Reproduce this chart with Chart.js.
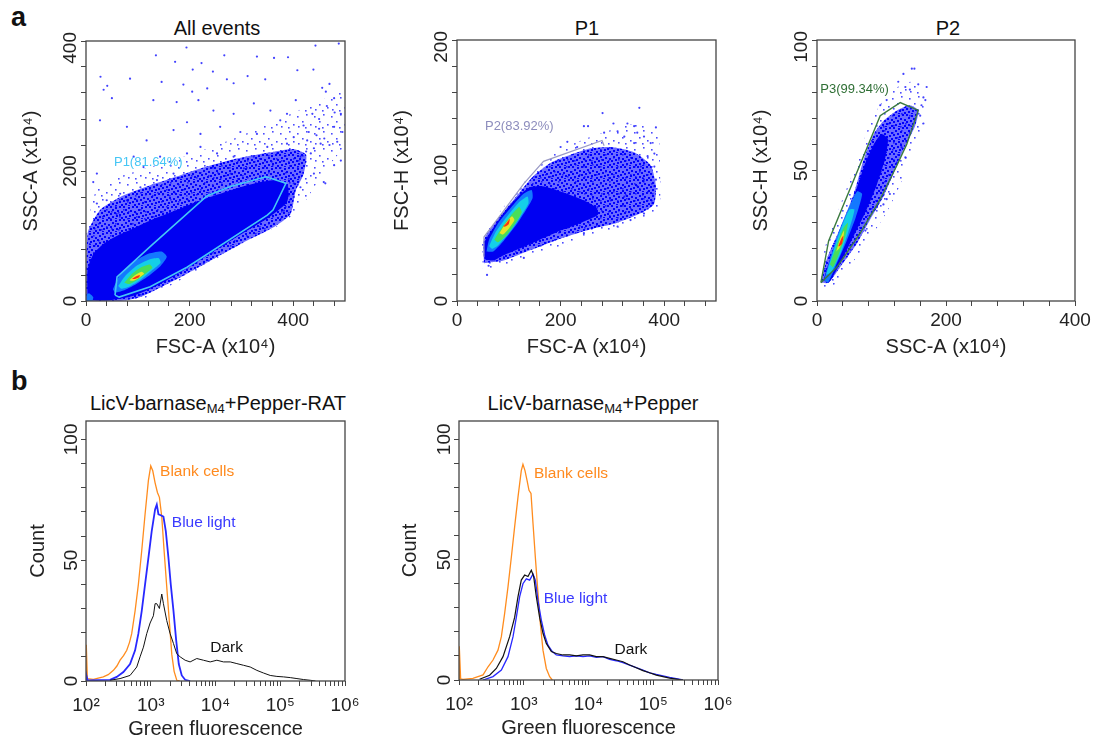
<!DOCTYPE html>
<html>
<head>
<meta charset="utf-8">
<script src="https://cdn.jsdelivr.net/npm/chart.js@4.4.1/dist/chart.umd.min.js"></script>
<style>
  body { margin: 0; width: 1095px; height: 740px; overflow: hidden; background: #fff; position: relative;
         font-family: 'Liberation Sans', Arial, sans-serif; color: #111; }
  canvas { position: absolute; }
  .lbl { position: absolute; font-weight: bold; font-size: 27px; line-height: 27px; }
  .ttl { position: absolute; font-size: 20px; line-height: 20px; white-space: nowrap; transform: translateX(-50%); }
  .ttl span { font-size: 13px; position: relative; top: 3px; }
</style>
</head>
<body>
<div class="lbl" style="left:11px;top:4px">a</div>
<div class="lbl" style="left:11px;top:368px">b</div>
<div class="ttl" style="left:217px;top:18px">All events</div>
<div class="ttl" style="left:587px;top:18px">P1</div>
<div class="ttl" style="left:948px;top:18px">P2</div>
<div class="ttl" style="left:218px;top:393px">LicV-barnase<span>M4</span>+Pepper-RAT</div>
<div class="ttl" style="left:593px;top:393px">LicV-barnase<span>M4</span>+Pepper</div>
<canvas id="c1"></canvas>
<canvas id="c2"></canvas>
<canvas id="c3"></canvas>
<canvas id="c4"></canvas>
<canvas id="c5"></canvas>
<script>
// ---- ticks ----
const ticks0to480 = [0, 40, 80, 120, 160, 200, 240, 280, 320, 360, 400, 440, 480];
const ticks0to400 = [0, 40, 80, 120, 160, 200, 240, 280, 320, 360, 400];
const ticks0to200 = [0, 20, 40, 60, 80, 100, 120, 140, 160, 180, 200];
const ticks0to100 = [0, 10, 20, 30, 40, 50, 60, 70, 80, 90, 100];
const histXTicks = [100, 200, 300, 400, 500, 600, 700, 800, 900,
  1000, 2000, 3000, 4000, 5000, 6000, 7000, 8000, 9000,
  10000, 20000, 30000, 40000, 50000, 60000, 70000, 80000, 90000,
  100000, 200000, 300000, 400000, 500000, 600000, 700000, 800000, 900000, 1000000];
const histXLabels = { 100: '10²', 1000: '10³', 10000: '10⁴', 100000: '10⁵', 1000000: '10⁶' };

// ---- panel 1: All events (FSC-A vs SSC-A), density outlines ----
const p1Sparse = [[0,110],[20,170],[60,190],[120,205],[200,225],[280,248],[360,275],[430,300],[498,320],[498,240],[460,200],[420,150],[380,120],[300,88],[200,40],[100,0],[0,0]];
const p1Med = [[0,0],[3,104],[27,140],[66,160],[117,176],[169,190],[221,204],[285,218],[350,228],[400,234],[425,225],[420,195],[405,170],[395,134],[363,114],[311,93],[195,42],[105,6],[66,0]];
const p1Dense = [[3,1],[3,48],[14,72],[34,88],[59,100],[92,112],[124,124],[169,138],[221,155],[259,165],[298,175],[337,183],[369,186],[390,176],[388,152],[350,127],[298,102],[246,76],[195,50],[143,26],[92,8],[46,1]];
const p1L1 = [[52,18],[64,38],[88,58],[118,72],[146,76],[156,68],[144,54],[120,38],[95,25],[72,16],[56,13]];
const p1L2 = [[62,23],[76,39],[97,54],[122,64],[140,66],[144,59],[127,47],[104,32],[83,22],[68,19]];
const p1L3 = [[74,28],[88,41],[105,51],[123,56],[128,51],[115,42],[98,32],[83,26]];
const p1L4 = [[84,32],[95,40],[107,45],[112,42],[101,35],[91,31]];
const p1L5 = [[89,34],[97,38],[104,40],[102,36],[95,34]];
const p1Corner = [[1,0],[1,10],[6,12],[14,6],[12,0]];
const p1Gate = [[56,9],[60,37],[127,86],[234,162],[279,176],[347,191],[386,181],[361,140],[350,132],[195,52],[124,22],[64,6]];
const p1Dots = [[135,378],[194,390],[172,368],[223,366],[267,378],[330,376],[363,374],[390,375],[443,393],[488,396],[206,356],[245,353],
  [28,345],[41,331],[34,325],[50,312],[85,342],[146,337],[188,333],[205,322],[234,327],[272,341],[285,335],[312,346],[346,341],
  [408,355],[439,356],[456,328],[470,334],[463,322],[405,309],[479,312],[492,288],[479,268],[437,288],[450,265],[453,242],[427,247],
  [130,309],[175,306],[217,309],[246,293],[285,288],[324,304],[356,293],[388,288],[79,268],[27,278],[117,247],[169,263],[195,275],
  [221,257],[259,268],[298,260],[330,257],[375,278],[401,252],[492,216],[479,209],[459,183],[462,181],[440,196],[414,175],[401,160],
  [382,139],[14,183],[21,196],[21,150],[40,155],[66,165],[59,134],[285,83],[363,155],[324,129],[401,181],[111,206],[143,222],[92,222],
  [195,227],[221,237],[253,227],[285,222],[324,222],[350,237],[369,227],[388,242],[414,222],[434,227],[305,204],[279,196],[169,196],
  [137,186],[105,175],[79,155],[420,270],[430,260],[445,255],[460,250],[470,240],[485,245],[495,260],[440,235],[425,230],[480,290],[465,300],[450,280]];

// ---- panel 2: P1 (FSC-A vs FSC-H) ----
const p2Sparse = [[50,25],[50,50],[90,72],[150,100],[200,116],[260,126],[320,134],[360,136],[388,128],[392,100],[390,72],[350,62],[280,52],[200,42],[120,32],[70,24]];
const p2Med = [[52,29],[52,47],[77,62],[110,78],[148,96],[181,106],[219,112],[258,117],[297,118],[342,114],[374,104],[384,88],[380,74],[348,66],[310,60],[258,55],[194,47],[142,39],[90,31]];
const p2Dense = [[53,32],[53,45],[70,56],[95,70],[120,81],[140,87],[165,88],[200,84],[240,78],[268,72],[272,66],[240,60],[200,54],[160,47],[120,40],[90,35],[70,31]];
const p2L1 = [[57,38],[62,47],[80,60],[105,72],[128,82],[144,85],[146,79],[132,69],[112,57],[90,46],[70,38]];
const p2L2 = [[62,42],[75,53],[95,64],[118,75],[136,80],[138,75],[123,65],[102,53],[80,43],[68,40]];
const p2L3 = [[72,47],[86,56],[105,66],[120,72],[125,68],[112,59],[95,50],[79,45]];
const p2L4 = [[82,52],[93,59],[106,65],[111,62],[101,56],[89,51]];
const p2L5 = [[89,57],[96,60],[102,63],[100,59],[93,57]];
const p2Gate = [[52,34],[52,49],[90,69],[129,90],[167,107],[280,123],[284,119]];
const p2Dots = [[352,148],[281,144],[245,134],[253,134],[302,136],[329,136],[342,134],[384,133],[310,130],[348,129],[361,126],[374,121],
  [381,113],[381,103],[384,93],[381,88],[377,75],[368,77],[361,67],[335,62],[310,57],[245,52],[219,62],[129,33],[61,27],[58,20],
  [284,129],[323,126],[213,122],[232,118],[200,118],[342,121],[368,111],[355,103],[361,93],[348,88],[323,80],[297,77],[271,72],[194,65]];

// ---- panel 3: P2 (SSC-A vs SSC-H) ----
const p3Sparse = [[5,5],[12,20],[35,36],[60,52],[82,68],[100,76],[125,82],[150,84],[166,78],[162,66],[145,55],[128,44],[108,34],[82,24],[50,13],[22,5]];
const p3Med = [[6,7],[15,16],[36,28],[57,41],[72,54],[88,64],[103,69],[124,73],[144,75],[157,73],[152,67],[134,58],[119,49],[103,40],[82,31],[62,22],[36,13],[18,7]];
const p3Dense = [[10,8],[20,16],[40,28],[60,42],[75,53],[88,60],[100,64],[110,62],[105,54],[92,44],[75,34],[55,24],[35,14],[18,7]];
const p3L1 = [[11,8],[20,16],[33,26],[48,35],[62,42],[70,41],[60,32],[46,23],[30,14],[17,7]];
const p3L2 = [[14,10],[24,18],[36,27],[50,35],[58,35],[48,26],[36,18],[22,11]];
const p3L3 = [[20,14],[30,21],[41,28],[48,30],[44,25],[34,18],[25,13]];
const p3L4 = [[30,19],[36,24],[42,27],[40,23],[34,20]];
const p3L5 = [[33,21],[38,24],[41,25],[39,22],[35,21]];
const p3Gate = [[6,7],[18,23],[98,71],[129,76],[157,73],[139,60],[124,52],[98,39],[67,26],[31,13]];
const p3Dots = [[147,89],[151,89],[134,87],[126,84],[137,82],[157,83],[170,82],[144,81],[165,78],[168,77],[162,75],[155,73],[165,68],
  [160,71],[108,77],[98,75],[137,55],[131,59],[113,41],[108,39],[103,37],[75,27],[93,36],[124,53],[139,61]];

// ---- panel b: histograms (green fluorescence, count) ----
const h1Blank = [[101,0],[101,15],[105,1.0],[130,0.7],[160,1.3],[185,1.7],[220,2.6],[265,4.4],[300,6.2],[336,8.6],[380,10.5],[426,12.7],[470,16],[508,19.6],[573,29],[644,40],[726,54],[817,69],[920,83],[1000,89],[1074,87],[1167,82],[1268,78],[1361,76],[1479,68],[1607,54],[1766,39],[1945,24],[2113,11],[2296,4],[2523,0.3],[2800,0]];
const h1Blue = [[101,0],[101,2.5],[106,0.3],[235,0.5],[298,1.7],[378,3.7],[479,7],[573,12.7],[644,19.6],[726,29],[817,40],[920,51],[1035,62],[1167,71],[1239,73],[1315,69],[1429,68.6],[1570,68],[1708,62],[1876,51],[2037,40],[2244,29],[2466,17],[2710,7],[3013,2.3],[3396,0.5],[4055,0]];
const h1Dark = [[235,0.3],[336,1],[479,2.3],[608,5.8],[684,10],[771,14],[867,19.6],[977,24],[1099,27],[1167,32],[1239,32],[1361,30],[1479,36],[1570,32],[1766,25],[1991,19.6],[2244,15.5],[2523,11.3],[2844,10],[3396,8.6],[4055,7.9],[5140,9.3],[6516,8.6],[8279,7.9],[10500,8.6],[13300,7.9],[16870,7.9],[21380,7.2],[27100,6.5],[34360,5.8],[43550,4.4],[55200,3.3],[70000,2.3],[88720,1.9],[112700,1.7],[142900,1.4],[181100,1.0],[229600,0.6],[291100,0.3],[350000,0]];
const h2Blank = [[101,0],[101,14],[106,0.5],[115,0.3],[164,0.7],[235,2.1],[281,5.5],[335,8.3],[400,12.4],[451,18],[507,27.7],[571,38.7],[643,51],[723,63.6],[815,76],[916,87],[972,89.6],[1045,87],[1122,83],[1205,78.8],[1294,77.5],[1390,65],[1510,51],[1660,36],[1803,23.5],[1982,12.4],[2230,4.8],[2512,1.4],[2761,0]];
const h2Blue = [[235,0],[335,1.4],[451,4.1],[571,9.7],[683,18],[768,26],[865,34.6],[972,40],[1096,42],[1234,41.5],[1390,44],[1510,41.5],[1660,33],[1866,25],[2102,18.7],[2366,14.5],[2761,11.8],[3184,10.4],[4036,10],[5117,9.7],[6486,10],[8222,9.7],[10400,10],[13190,9.4],[16710,9.7],[21180,8.6],[26850,8],[34040,7.2],[43150,6.2],[54700,5.1],[69340,4.1],[87900,3],[111400,2.3],[141200,1.7],[179100,1.1],[227000,0.6],[287700,0]];
const h2Dark = [[208,0.3],[297,2],[377,4.8],[478,9.7],[606,18],[723,26],[815,34.6],[916,41.5],[1033,43.6],[1162,43],[1309,45.6],[1422,43],[1563,34.6],[1758,26],[1982,19.4],[2230,15.2],[2667,11.8],[3184,11],[4036,10.4],[5117,10.4],[6486,10],[8222,10.4],[10400,10.4],[13190,9.7],[16710,9.7],[21180,9],[26850,8.3],[34040,7.6],[43150,6.2],[54700,5.1],[69340,3.9],[87900,3],[111400,2],[141200,1.4],[179100,0.8],[227000,0.4],[287700,0]];

// ---- styles ----
Chart.defaults.font.family = "'Liberation Sans', Arial, sans-serif";
Chart.defaults.color = '#222';

// speckled fills so the thinner parts of each cloud read as single events
function dotPattern(size, cells, dot, color, bg) {
  const c = document.createElement('canvas');
  c.width = c.height = size;
  const g = c.getContext('2d');
  if (bg) { g.fillStyle = bg; g.fillRect(0, 0, size, size); }
  g.fillStyle = color;
  cells.forEach(p => g.fillRect(p[0], p[1], dot, dot));
  return g.createPattern(c, 'repeat');
}
const SPARSE = dotPattern(17, [[2,3],[11,1],[7,8],[15,11],[3,13],[10,14]], 1.6, 'rgba(45,45,255,0.85)', null);
const MED = dotPattern(13, [[0,0],[5,1],[9,0],[2,3],[7,4],[11,5],[4,6],[0,7],[9,8],[6,9],[2,10],[11,11],[5,12]],
                       2, '#0000ff', 'rgba(0,0,255,0.58)');
const DENSE = '#0000f2';
const CORE = ['#1478ff', '#14cfe8', '#48de5a', '#e6e628', '#ff3010'];
const AXIS = '#444';

const toXY = a => a.map(p => ({ x: p[0], y: p[1] }));
const closed = a => toXY(a.concat([a[0]]));

function region(pts, color, order) {
  return { data: closed(pts), fill: 'shape', backgroundColor: color, borderColor: 'rgba(0,0,0,0)',
           borderWidth: 0, pointRadius: 0, tension: 0.2, order: order };
}
function dots(pts, color) {
  return { data: toXY(pts), showLine: false, pointRadius: 1.1, pointBackgroundColor: color,
           pointBorderWidth: 0, order: 30 };
}
function gate(pts, color, w, isClosed) {
  return { data: isClosed ? closed(pts) : toXY(pts), fill: false, borderColor: color, borderWidth: w,
           pointRadius: 0, tension: 0, order: 0 };
}
function trace(pts, color, w, order) {
  return { data: toXY(pts), fill: false, borderColor: color, borderWidth: w, pointRadius: 0, tension: 0, order: order };
}

// frame, rotated y tick labels and in-plot notes
const panelDeco = {
  id: 'panelDeco',
  afterDraw(chart, args, o) {
    const { ctx, chartArea: a, scales } = chart;
    ctx.save();
    ctx.strokeStyle = AXIS;
    ctx.lineWidth = 1.3;
    ctx.strokeRect(a.left, a.top, a.right - a.left, a.bottom - a.top);
    ctx.font = "19px 'Liberation Sans', Arial, sans-serif";
    ctx.fillStyle = '#222';
    ctx.textAlign = 'center';
    ctx.textBaseline = 'alphabetic';
    o.yLabels.forEach(v => {
      const s = String(v);
      const hw = ctx.measureText(s).width / 2;
      let y = scales.y.getPixelForValue(v);
      if (y - hw < a.top - 9) y = a.top - 9 + hw;
      ctx.save();
      ctx.translate(a.left - o.yGap, y);
      ctx.rotate(-Math.PI / 2);
      ctx.fillText(s, 0, 0);
      ctx.restore();
    });
    (o.notes || []).forEach(n => {
      ctx.font = n.size + "px 'Liberation Sans', Arial, sans-serif";
      ctx.fillStyle = n.color;
      ctx.textAlign = 'left';
      ctx.textBaseline = 'middle';
      ctx.fillText(n.text, scales.x.getPixelForValue(n.x), scales.y.getPixelForValue(n.y));
    });
    ctx.restore();
  }
};

function makePanel(id, box, cfg) {
  const L = 80, T = 30, R = 25, B = cfg.bottomSpace;
  const cv = document.getElementById(id);
  cv.width = box.r - box.l + L + R;
  cv.height = box.b - box.t + T + B;
  cv.style.left = (box.l - L) + 'px';
  cv.style.top = (box.t - T) + 'px';
  const grid = { display: true, drawOnChartArea: false, drawTicks: true, tickLength: 5, color: AXIS, lineWidth: 1 };
  return new Chart(cv, {
    type: 'line',
    data: { datasets: cfg.datasets },
    options: {
      responsive: false,
      animation: false,
      events: [],
      layout: { padding: { left: 0, top: T, right: R, bottom: 0 } },
      plugins: {
        legend: { display: false },
        tooltip: { enabled: false },
        panelDeco: { yLabels: cfg.yLabels, yGap: cfg.yGap, notes: cfg.notes }
      },
      scales: {
        x: {
          type: cfg.xType, min: cfg.xMin, max: cfg.xMax,
          afterBuildTicks: s => { s.ticks = cfg.xTicks.map(v => ({ value: v })); },
          afterFit: s => { s.height = B; },
          ticks: { autoSkip: false, maxRotation: 0, padding: cfg.xPad, font: { size: 19 }, color: '#222',
                   callback: v => cfg.xLabel(v) },
          grid: grid,
          border: { display: false },
          title: { display: true, text: cfg.xTitle, font: { size: 20 }, color: '#222',
                   padding: { top: 0, bottom: cfg.xTitlePad } }
        },
        y: {
          type: 'linear', min: cfg.yMin, max: cfg.yMax,
          afterBuildTicks: s => { s.ticks = cfg.yTicks.map(v => ({ value: v })); },
          afterFit: s => { s.width = L; },
          ticks: { display: false },
          grid: grid,
          border: { display: false },
          title: { display: true, text: cfg.yTitle, font: { size: 20 }, color: '#222',
                   padding: { top: cfg.yTitlePad, bottom: 0 } }
        }
      }
    },
    plugins: [panelDeco]
  });
}

function densitySets(s, m, d, cores, extra) {
  const out = [region(s, SPARSE, 20), region(m, MED, 19), region(d, DENSE, 18)];
  cores.forEach((c, i) => out.push(region(c, CORE[i], 17 - i)));
  return out.concat(extra || []);
}
const linLabel = list => v => list.includes(v) ? String(v) : '';

makePanel('c1', { l: 86, t: 41, r: 345, b: 301 }, {
  bottomSpace: 70, xType: 'linear', xMin: 0, xMax: 500, xTicks: ticks0to480, xLabel: linLabel([0, 200, 400]),
  xPad: 3, xTitle: 'FSC-A (x10⁴)', xTitlePad: 12,
  yMin: 0, yMax: 400, yTicks: ticks0to400, yLabels: [0, 200, 400], yGap: 10,
  yTitle: 'SSC-A (x10⁴)', yTitlePad: 13,
  notes: [{ text: 'P1(81.64%)', x: 54, y: 213, color: '#45c6f5', size: 13 }],
  datasets: densitySets(p1Sparse, p1Med, p1Dense, [p1L1, p1L2, p1L3, p1L4, p1L5],
    [region(p1Corner, CORE[0], 17), dots(p1Dots, 'rgba(45,45,255,0.9)'), gate(p1Gate, '#45c6f5', 1.6, true)])
});

makePanel('c2', { l: 457, t: 40, r: 716, b: 301 }, {
  bottomSpace: 70, xType: 'linear', xMin: 0, xMax: 500, xTicks: ticks0to480, xLabel: linLabel([0, 200, 400]),
  xPad: 3, xTitle: 'FSC-A (x10⁴)', xTitlePad: 12,
  yMin: 0, yMax: 200, yTicks: ticks0to200, yLabels: [0, 100, 200], yGap: 10,
  yTitle: 'FSC-H (x10⁴)', yTitlePad: 13,
  notes: [{ text: 'P2(83.92%)', x: 54, y: 134, color: '#8d8dbd', size: 13 }],
  datasets: densitySets(p2Sparse, p2Med, p2Dense, [p2L1, p2L2, p2L3, p2L4, p2L5],
    [dots(p2Dots, 'rgba(45,45,255,0.9)'), gate(p2Gate, '#9a9ac6', 1.2, false)])
});

makePanel('c3', { l: 817, t: 40, r: 1075, b: 301 }, {
  bottomSpace: 70, xType: 'linear', xMin: 0, xMax: 400, xTicks: ticks0to400, xLabel: linLabel([0, 200, 400]),
  xPad: 3, xTitle: 'SSC-A (x10⁴)', xTitlePad: 12,
  yMin: 0, yMax: 100, yTicks: ticks0to100, yLabels: [0, 50, 100], yGap: 10,
  yTitle: 'SSC-H (x10⁴)', yTitlePad: 12,
  notes: [{ text: 'P3(99.34%)', x: 5, y: 81, color: '#2f6f35', size: 13 }],
  datasets: densitySets(p3Sparse, p3Med, p3Dense, [p3L1, p3L2, p3L3, p3L4, p3L5],
    [dots(p3Dots, 'rgba(45,45,255,0.9)'), gate(p3Gate, '#3b7a3f', 1.4, true)])
});

const ORANGE = 'rgb(255,140,30)', BLUE = 'rgb(40,40,255)', BLACK = '#111';
const logLabel = v => histXLabels[v] || '';

makePanel('c4', { l: 86, t: 421, r: 345, b: 681 }, {
  bottomSpace: 60, xType: 'logarithmic', xMin: 100, xMax: 1000000, xTicks: histXTicks, xLabel: logLabel,
  xPad: 8, xTitle: 'Green fluorescence', xTitlePad: 0,
  yMin: 0, yMax: 107.6, yTicks: ticks0to100, yLabels: [0, 50, 100], yGap: 9,
  yTitle: 'Count', yTitlePad: 20,
  notes: [
    { text: 'Blank cells', x: 1393, y: 86.6, color: '#ff8a1e', size: 15.5 },
    { text: 'Blue light', x: 2113, y: 65.3, color: '#3a3aff', size: 15.5 },
    { text: 'Dark', x: 8279, y: 13.8, color: '#111', size: 15.5 }
  ],
  datasets: [trace(h1Dark, BLACK, 1, 1), trace(h1Blue, BLUE, 1.8, 2), trace(h1Blank, ORANGE, 1.3, 3)]
});

makePanel('c5', { l: 459, t: 421, r: 718, b: 680 }, {
  bottomSpace: 60, xType: 'logarithmic', xMin: 100, xMax: 1000000, xTicks: histXTicks, xLabel: logLabel,
  xPad: 8, xTitle: 'Green fluorescence', xTitlePad: 0,
  yMin: 0, yMax: 107.6, yTicks: ticks0to100, yLabels: [0, 50, 100], yGap: 9,
  yTitle: 'Count', yTitlePad: 19,
  notes: [
    { text: 'Blank cells', x: 1439, y: 85.8, color: '#ff8a1e', size: 15.5 },
    { text: 'Blue light', x: 2028, y: 33.9, color: '#3a3aff', size: 15.5 },
    { text: 'Dark', x: 25290, y: 12.7, color: '#111', size: 15.5 }
  ],
  datasets: [trace(h2Dark, BLACK, 1.2, 1), trace(h2Blue, BLUE, 1.3, 2), trace(h2Blank, ORANGE, 1.3, 3)]
});
</script>
</body>
</html>
